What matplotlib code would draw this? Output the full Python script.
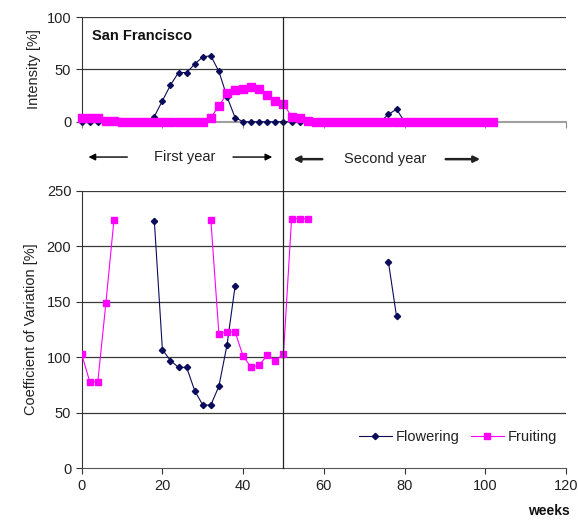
import numpy as np
import matplotlib
matplotlib.use("Agg")
import matplotlib.pyplot as plt
from matplotlib.transforms import blended_transform_factory

plt.rcParams['font.family'] = ['Liberation Sans', 'DejaVu Sans']

nan = np.nan
weeks = [0, 2, 4, 6, 8, 10, 12, 14, 16, 18, 20, 22, 24, 26, 28, 30, 32, 34, 36, 38,
         40, 42, 44, 46, 48, 50, 52, 54, 56, 58, 60, 62, 64, 66, 68, 70, 72, 74, 76, 78,
         80, 82, 84, 86, 88, 90, 92, 94, 96, 98, 100, 102]

flower_int = [0, 0, 0, 0, 0, 0, 0, 0, 0, 5, 20, 35, 47, 47, 55, 62, 63, 48, 24, 4,
              0, 0, 0, 0, 0, 0, 0, 0, 0, 0, 0, 0, 0, 0, 0, 0, 0, 0, 7, 12,
              0, 0, 0, 0, 0, 0, 0, 0, 0, 0, 0, 0]
fruit_int = [4, 4, 4, 1, 1, 0, 0, 0, 0, 0, 0, 0, 0, 0, 0, 0, 4, 15, 27, 30,
             31, 33, 31, 26, 20, 17, 5, 4, 1, 0, 0, 0, 0, 0, 0, 0, 0, 0, 0, 0,
             0, 0, 0, 0, 0, 0, 0, 0, 0, 0, 0, 0]

flower_cv = [nan, nan, nan, nan, nan, nan, nan, nan, nan, 223, 107, 97, 91, 91, 70, 57, 57, 74, 111, 164,
             nan, nan, nan, nan, nan, nan, nan, nan, nan, nan, nan, nan, nan, nan, nan, nan, nan, nan, 186, 137,
             nan, nan, nan, nan, nan, nan, nan, nan, nan, nan, nan, nan]
fruit_cv = [103, 78, 78, 149, 224, nan, nan, nan, nan, nan, nan, nan, nan, nan, nan, nan, 224, 121, 123, 123,
            101, 91, 93, 102, 97, 103, 225, 225, 225, nan, nan, nan, nan, nan, nan, nan, nan, nan, nan, nan,
            nan, nan, nan, nan, nan, nan, nan, nan, nan, nan, nan, nan]

top_yticks = [0, 50, 100]
bot_yticks = [0, 50, 100, 150, 200, 250]
xticks = [0, 20, 40, 60, 80, 100, 120]

NAVY = '#0b0b5c'
MAG = '#ff00ff'
GRID = '#3a3a3a'
TXT = '#222222'

fig = plt.figure(figsize=(5.78, 5.27), dpi=100)
ax1 = fig.add_axes([0.1413, 0.769, 0.838, 0.1986])
ax2 = fig.add_axes([0.1413, 0.1114, 0.838, 0.5262])

for ax in (ax1, ax2):
    ax.spines['top'].set_visible(False)
    ax.spines['right'].set_visible(False)
    ax.spines['left'].set_color('#333333')
    ax.set_xlim(0, 120)
    ax.set_xticks(xticks)
    ax.tick_params(axis='both', direction='out', length=4, width=0.8,
                   colors='#333333', labelcolor=TXT, labelsize=10.5)
    ax.set_axisbelow(True)

# top panel
ax1.set_ylim(0, 100)
ax1.set_yticks(top_yticks)
ax1.spines['bottom'].set_color('#a0a0a0')
ax1.spines['bottom'].set_linewidth(1.5)
ax1.tick_params(axis='x', labelbottom=False, colors='#888888')
for v in top_yticks[1:]:
    ax1.axhline(v, color=GRID, lw=0.9, zorder=1)
ax1.plot(weeks, flower_int, color=NAVY, lw=0.8, marker='D', ms=3.0, zorder=3, clip_on=False)
ax1.plot(weeks, fruit_int, color=MAG, lw=0.8, marker='s', ms=6, zorder=4, clip_on=False)
ax1.set_ylabel('Intensity [%]', color=TXT, fontsize=10.5, labelpad=4)
ax1.text(2.5, 82, 'San Francisco', fontsize=10.5, fontweight='bold', color='#111111', va='center')

# bottom panel
ax2.set_ylim(0, 250)
ax2.set_yticks(bot_yticks)
ax2.spines['bottom'].set_color('#555555')
for v in bot_yticks[1:]:
    ax2.axhline(v, color=GRID, lw=0.9, zorder=1)
l1, = ax2.plot(weeks, flower_cv, color=NAVY, lw=0.8, marker='D', ms=3.2, zorder=3, label='Flowering')
l2, = ax2.plot(weeks, fruit_cv, color=MAG, lw=0.8, marker='s', ms=5, zorder=4, label='Fruiting')
ax2.set_ylabel('Coefficient of Variation [%]', color=TXT, fontsize=10.5, labelpad=6)
leg = ax2.legend(handles=[l1, l2], loc='center right', bbox_to_anchor=(1.0, 0.113), ncol=2,
                 frameon=False, fontsize=10.5, handlelength=2.2, handletextpad=0.3,
                 columnspacing=0.8, borderpad=0.1)
for t in leg.get_texts():
    t.set_color(TXT)
fig.text(0.985, 0.017, 'weeks', fontsize=10, fontweight='bold', ha='right', va='bottom', color='#111111')

# continuous vertical divider at week 50
tr = blended_transform_factory(ax2.transData, fig.transFigure)
ax2.plot([50, 50], [0.1114, 0.9677], transform=tr, color='#222222', lw=0.9, clip_on=False, zorder=5)

# year labels with arrows
yy1 = 0.702
yy2 = 0.698
ax2.annotate('', xy=(1, yy1), xytext=(12, yy1), xycoords=tr, textcoords=tr,
             arrowprops=dict(arrowstyle='-|>', color='black', lw=1, mutation_scale=10))
ax2.text(25.4, yy1, 'First year', transform=tr, ha='center', va='center', fontsize=10.5, color=TXT)
ax2.annotate('', xy=(47.9, yy1), xytext=(36.8, yy1), xycoords=tr, textcoords=tr,
             arrowprops=dict(arrowstyle='-|>', color='black', lw=1, mutation_scale=10))
ax2.annotate('', xy=(51.8, yy2), xytext=(60.3, yy2), xycoords=tr, textcoords=tr,
             arrowprops=dict(arrowstyle='-|>', color='#222222', lw=1.8, mutation_scale=9))
ax2.text(75.2, yy2, 'Second year', transform=tr, ha='center', va='center', fontsize=10.5, color=TXT)
ax2.annotate('', xy=(99.4, yy2), xytext=(89.5, yy2), xycoords=tr, textcoords=tr,
             arrowprops=dict(arrowstyle='-|>', color='#222222', lw=1.8, mutation_scale=9))

fig.savefig('out.png', dpi=100)
